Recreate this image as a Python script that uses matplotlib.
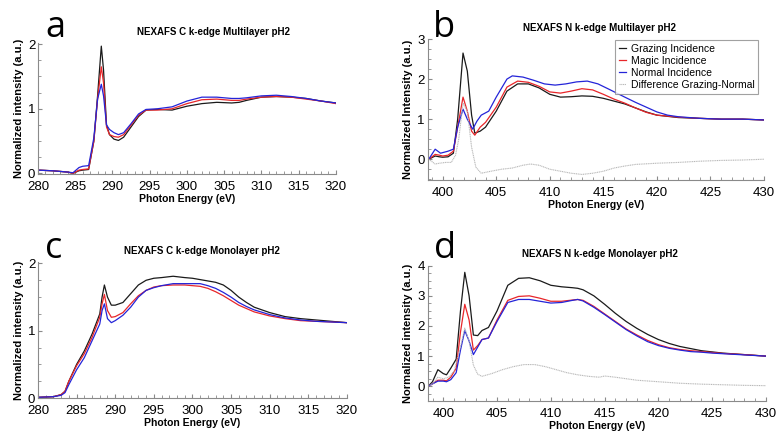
import matplotlib.pyplot as plt
import numpy as np
from matplotlib.ticker import MultipleLocator

plt.rcParams['font.family'] = ['Liberation Sans', 'DejaVu Sans']

# panel a: C k-edge multilayer
a_x = [280, 282, 284, 284.7, 285.5, 286, 286.8, 287.5, 288, 288.5, 288.8, 289.2, 289.6, 290.2, 290.8,
       291.5, 292.5, 293.5, 294.5, 296, 298, 300, 302, 304, 306, 307, 308, 310, 312, 314, 316, 318, 320]
a_grazing = [0.05, 0.04, 0.02, 0.0, 0.04, 0.05, 0.06, 0.5, 1.2, 1.97, 1.6, 0.75, 0.6, 0.53, 0.51,
             0.56, 0.72, 0.88, 0.98, 0.99, 0.98, 1.04, 1.08, 1.10, 1.09, 1.10, 1.13, 1.18, 1.19, 1.18, 1.16, 1.12, 1.09]
a_magic = [0.05, 0.04, 0.02, 0.0, 0.05, 0.06, 0.07, 0.5, 1.15, 1.65, 1.4, 0.72, 0.6, 0.57, 0.56,
           0.6, 0.75, 0.9, 0.98, 0.98, 1.0, 1.08, 1.14, 1.15, 1.13, 1.13, 1.15, 1.18, 1.19, 1.18, 1.15, 1.12, 1.08]
a_normal = [0.05, 0.04, 0.02, 0.01, 0.09, 0.11, 0.12, 0.55, 1.15, 1.38, 1.2, 0.75, 0.68, 0.63, 0.6,
            0.63, 0.77, 0.92, 0.99, 1.0, 1.03, 1.12, 1.18, 1.18, 1.16, 1.16, 1.17, 1.2, 1.21, 1.19, 1.16, 1.12, 1.09]

# panel b: N k-edge multilayer
b_x = [398.7, 399.3, 399.7, 400, 400.5, 401, 401.4, 401.9, 402.3, 402.7, 403, 403.5, 404, 405, 406, 407,
       408, 409, 410, 411, 412, 413, 414, 415, 416, 417, 418, 419, 420, 422, 424, 426, 428, 430]
b_grazing = [0.0, 0.08, 0.06, 0.05, 0.06, 0.15, 1.0, 2.65, 2.2, 1.1, 0.65, 0.7, 0.8, 1.2, 1.7, 1.88,
             1.88, 1.78, 1.62, 1.55, 1.56, 1.58, 1.57, 1.52, 1.45, 1.38, 1.28, 1.18, 1.1, 1.04, 1.02, 1.0, 1.0, 0.98]
b_magic = [0.0, 0.12, 0.1, 0.08, 0.1, 0.2, 0.8, 1.55, 1.2, 0.7, 0.6, 0.8, 0.92, 1.3, 1.8, 1.95,
           1.92, 1.82, 1.68, 1.65, 1.7, 1.76, 1.73, 1.62, 1.5, 1.4, 1.28, 1.17, 1.1, 1.05, 1.02, 1.0, 1.0, 0.98]
b_normal_x = [398.7, 399.3, 399.8, 400.5, 401, 401.4, 401.9, 402.3, 402.8, 403.2, 403.6, 404.3, 405, 406,
              406.5, 407.5, 408.5, 409.5, 410.5, 411.5, 412.5, 413.5, 414.5, 415.5, 417, 418, 419, 420,
              421, 422, 424, 426, 428, 430]
b_normal = [0.0, 0.25, 0.15, 0.2, 0.25, 0.8, 1.25, 1.0, 0.75, 0.95, 1.1, 1.2, 1.55, 2.0,
            2.08, 2.05, 1.97, 1.88, 1.85, 1.88, 1.93, 1.95, 1.88, 1.75, 1.55, 1.42, 1.3, 1.18,
            1.1, 1.06, 1.02, 1.0, 1.0, 0.98]
b_diff_x = [398.7, 399.3, 399.7, 400.3, 400.8, 401.2, 401.5, 401.9, 402.3, 402.7, 403.1, 403.6, 404.5,
            405.5, 406.5, 407.5, 408.2, 409, 410, 411, 412, 413, 414, 415, 416, 417, 418, 420, 422,
            424, 426, 428, 430]
b_diff = [0.0, -0.12, -0.1, -0.08, -0.08, 0.1, 0.5, 1.4, 1.2, 0.3, -0.2, -0.35, -0.3,
          -0.25, -0.22, -0.15, -0.12, -0.15, -0.25, -0.3, -0.35, -0.38, -0.35, -0.3, -0.22, -0.17, -0.13, -0.1, -0.08,
          -0.05, -0.03, -0.02, 0.0]

# panel c: C k-edge monolayer
c_x = [280, 282, 283, 283.5, 284, 285, 286, 287, 288, 288.3, 288.6, 289, 289.5, 290, 291, 292, 293, 294,
       295, 296, 297.5, 299, 300, 301, 302, 303, 304, 305, 306, 307, 308, 310, 312, 314, 316, 318, 320]
c_grazing = [0.01, 0.02, 0.05, 0.1, 0.25, 0.5, 0.7, 0.95, 1.25, 1.5, 1.68, 1.5, 1.38, 1.38, 1.42, 1.55, 1.68, 1.75,
             1.78, 1.79, 1.81, 1.79, 1.78, 1.76, 1.74, 1.72, 1.68, 1.6, 1.5, 1.42, 1.35, 1.27, 1.21, 1.18, 1.16, 1.14, 1.12]
c_magic = [0.01, 0.02, 0.05, 0.1, 0.25, 0.48, 0.66, 0.9, 1.2, 1.4, 1.54, 1.3, 1.2, 1.21, 1.27, 1.4, 1.52, 1.6,
           1.65, 1.67, 1.68, 1.68, 1.67, 1.66, 1.63, 1.58, 1.52, 1.45, 1.38, 1.33, 1.28, 1.22, 1.18, 1.15, 1.14, 1.13, 1.12]
c_normal = [0.01, 0.02, 0.04, 0.08, 0.2, 0.42, 0.6, 0.85, 1.1, 1.3, 1.4, 1.18, 1.12, 1.15, 1.23, 1.35, 1.5, 1.6,
            1.64, 1.67, 1.7, 1.7, 1.7, 1.7, 1.67, 1.63, 1.57, 1.5, 1.42, 1.36, 1.31, 1.24, 1.19, 1.16, 1.14, 1.13, 1.12]

# panel d: N k-edge monolayer
d_x = [398.6, 399, 399.5, 400, 400.3, 400.7, 401.2, 401.6, 402, 402.4, 402.8, 403.2, 403.6, 404.2, 405, 406,
       407, 408, 409, 410, 411, 412, 412.5, 413, 414, 415, 416, 417, 418, 419, 420, 421, 422, 423, 424,
       425, 426, 428, 430]
d_grazing = [0.0, 0.15, 0.55, 0.42, 0.38, 0.6, 0.9, 2.5, 3.78, 3.0, 1.7, 1.68, 1.85, 1.95, 2.5, 3.35,
             3.58, 3.6, 3.5, 3.35, 3.3, 3.27, 3.25, 3.2, 3.0, 2.72, 2.42, 2.15, 1.92, 1.72, 1.55, 1.42, 1.32, 1.25, 1.18,
             1.14, 1.1, 1.05, 1.0]
d_magic = [0.0, 0.08, 0.2, 0.2, 0.18, 0.3, 0.6, 1.8, 2.72, 2.2, 1.2, 1.35, 1.55, 1.6, 2.2, 2.85,
           2.98, 3.0, 2.92, 2.82, 2.82, 2.86, 2.88, 2.85, 2.65, 2.4, 2.15, 1.9, 1.7, 1.52, 1.38, 1.28, 1.22, 1.18, 1.15,
           1.12, 1.09, 1.05, 1.0]
d_normal = [0.0, 0.08, 0.17, 0.17, 0.15, 0.22, 0.45, 1.2, 1.85, 1.5, 1.05, 1.3, 1.55, 1.6, 2.15, 2.78,
            2.88, 2.88, 2.82, 2.76, 2.78, 2.85, 2.88, 2.83, 2.62, 2.38, 2.13, 1.88, 1.67, 1.48, 1.35, 1.26, 1.2, 1.15, 1.13,
            1.1, 1.08, 1.04, 1.0]
d_diff_x = [398.6, 399, 399.5, 400, 400.5, 401, 401.6, 402, 402.4, 402.8, 403.2, 403.6, 404.5, 405.5, 406.5,
            407.5, 408.5, 409.5, 410.5, 411.5, 412.5, 413.5, 414.5, 415, 416, 417, 418, 420, 422, 424, 426, 428, 430]
d_diff = [0.0, 0.08, 0.3, 0.25, 0.3, 0.5, 1.3, 1.93, 1.5, 0.7, 0.4, 0.33, 0.42, 0.55, 0.65,
          0.72, 0.72, 0.65, 0.55, 0.45, 0.38, 0.33, 0.3, 0.34, 0.3, 0.25, 0.2, 0.15, 0.1, 0.07, 0.05, 0.03, 0.02]

black = '#1a1a1a'
red = '#e8262a'
blue = '#2424d8'
grey = '#b8b8b8'
spine = '#8a8a8a'

fig = plt.figure(figsize=(7.8, 4.37), dpi=100)

def setup(ax, title, title_x, xlim, ylim, yticks, ylabel, letter):
    ax.set_xlim(*xlim)
    ax.set_ylim(*ylim)
    ax.set_yticks(yticks)
    ax.xaxis.set_major_locator(MultipleLocator(5))
    ax.xaxis.set_minor_locator(MultipleLocator(1))
    ax.yaxis.set_minor_locator(MultipleLocator(0.25))
    for s in ['top', 'right']:
        ax.spines[s].set_visible(False)
    for s in ['left', 'bottom']:
        ax.spines[s].set_color(spine)
        ax.spines[s].set_linewidth(0.8)
    ax.tick_params(which='both', direction='in', color=spine, labelsize=9.5)
    ax.tick_params(axis='x', pad=5)
    ax.tick_params(axis='y', pad=2)
    ax.tick_params(which='major', length=3)
    ax.tick_params(which='minor', length=2)
    ax.set_title(title, fontsize=7, fontweight='bold', pad=6, x=title_x)
    ax.set_xlabel('Photon Energy (eV)', fontsize=7.5, fontweight='bold', labelpad=1)
    ax.set_ylabel(ylabel, fontsize=8, fontweight='bold', labelpad=3)
    fig.text(*letter[:2], letter[2], fontsize=26, family='Open Sans', va='baseline')

ax_a = fig.add_axes([0.0487, 0.6018, 0.382, 0.300])
ax_a.plot(a_x, a_grazing, color=black, lw=0.9)
ax_a.plot(a_x, a_magic, color=red, lw=0.9)
ax_a.plot(a_x, a_normal, color=blue, lw=0.9)
setup(ax_a, 'NEXAFS C k-edge Multilayer pH2', 0.59, (280, 320), (-0.01, 2.02), [0, 1, 2],
      'Normalized intensity (a.u.)', (0.058, 1 - 37 / 437, 'a'))

ax_b = fig.add_axes([0.5483, 0.588, 0.4312, 0.3227])
ax_b.plot(b_x, b_grazing, color=black, lw=0.9, label='Grazing Incidence')
ax_b.plot(b_x, b_magic, color=red, lw=0.9, label='Magic Incidence')
ax_b.plot(b_normal_x, b_normal, color=blue, lw=0.9, label='Normal Incidence')
ax_b.plot(b_diff_x, b_diff, color=grey, lw=0.8, ls=(0, (1, 0.6)), label='Difference Grazing-Normal')
setup(ax_b, 'NEXAFS N k-edge Multilayer pH2', 0.51, (398.6, 430), (-0.52, 3.0), [0, 1, 2, 3],
      'Normalized Intensity (a.u.)', (0.555, 1 - 37 / 437, 'b'))
leg = ax_b.legend(loc='upper right', bbox_to_anchor=(0.985, 1.0), fontsize=7.5, fancybox=False,
                  handlelength=0.7, handletextpad=0.4, labelspacing=0.2, borderpad=0.35, borderaxespad=0.1)
leg.get_frame().set_edgecolor(spine)
leg.get_frame().set_linewidth(0.8)

ax_c = fig.add_axes([0.0487, 0.0892, 0.396, 0.311])
ax_c.plot(c_x, c_grazing, color=black, lw=0.9)
ax_c.plot(c_x, c_magic, color=red, lw=0.9)
ax_c.plot(c_x, c_normal, color=blue, lw=0.9)
setup(ax_c, 'NEXAFS C k-edge Monolayer pH2', 0.53, (280, 320), (0, 2.02), [0, 1, 2],
      'Normalized intensity (a.u.)', (0.058, 1 - 258 / 437, 'c'))

ax_d = fig.add_axes([0.5483, 0.083, 0.4337, 0.309])
ax_d.plot(d_x, d_grazing, color=black, lw=0.9)
ax_d.plot(d_x, d_magic, color=red, lw=0.9)
ax_d.plot(d_x, d_normal, color=blue, lw=0.9)
ax_d.plot(d_diff_x, d_diff, color=grey, lw=0.8, ls=(0, (1, 0.6)))
setup(ax_d, 'NEXAFS N k-edge Monolayer pH2', 0.51, (398.55, 430), (-0.48, 4.0), [0, 1, 2, 3, 4],
      'Normalized intensity (a.u.)', (0.557, 1 - 258 / 437, 'd'))

fig.savefig('out.png', dpi=100)
